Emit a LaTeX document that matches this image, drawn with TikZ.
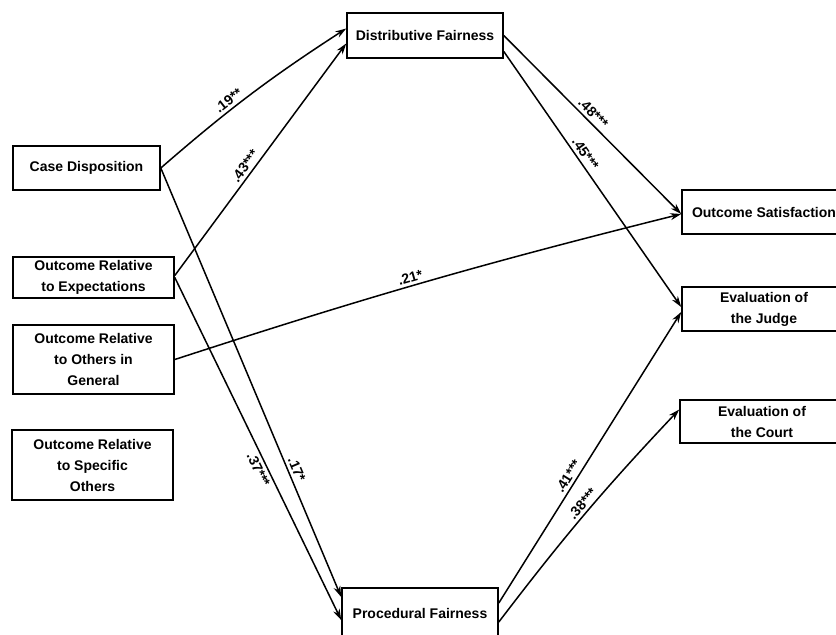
\documentclass[tikz,border=0pt]{standalone}
\usepackage{fontspec}
\setmainfont{Liberation Sans}
\usetikzlibrary{arrows.meta}
\begin{document}
\begin{tikzpicture}[x=1pt,y=-1pt,
  box/.style={draw,line width=1.6pt,rectangle,inner sep=0pt,align=center,
    font=\bfseries\fontsize{14}{21}\selectfont},
  arr/.style={line width=1.5pt,-{Stealth[length=11pt,width=7pt]}},
  lab/.style={sloped,font=\bfseries\fontsize{14}{16}\selectfont,inner sep=3pt}]
\useasboundingbox (0,0) rectangle (836,635);
\clip (0,0) rectangle (836,635);
% left column
\node[box,minimum width=147pt,minimum height=44pt] (cd) at (86.5,168) {Case Disposition};
\node[box,minimum width=161pt,minimum height=41pt] (ore) at (93.5,277.5) {Outcome Relative\\to Expectations};
\node[box,minimum width=161pt,minimum height=69pt] (oog) at (93.5,359.5) {Outcome Relative\\to Others in\\General};
\node[box,minimum width=161pt,minimum height=70pt] (osp) at (92.5,465) {Outcome Relative\\to Specific\\Others};
% middle column
\node[box,minimum width=156pt,minimum height=45pt] (df) at (425,35.5) {Distributive Fairness};
\node[box,minimum width=156pt,minimum height=50pt] (pf) at (420,613) {Procedural Fairness};
% right column
\node[box,minimum width=164pt,minimum height=44pt] (os) at (764,212) {Outcome Satisfaction};
\node[box,minimum width=164pt,minimum height=44pt] (ej) at (764,309) {Evaluation of\\the Judge};
\node[box,minimum width=164pt,minimum height=43pt] (ec) at (762,421.5) {Evaluation of\\the Court};
% connectors
\draw[arr] (cd.east) to[bend left=4] node[lab,above,pos=0.4]{.19**} ([yshift=7pt]df.west);
\draw[arr] ([yshift=2pt]ore.east) -- node[lab,above,pos=0.45]{.43***} ([yshift=-8pt]df.west);
\draw[arr] (cd.east) -- node[lab,above,pos=0.71]{.17*} ([yshift=16pt]pf.west);
\draw[arr] (ore.east) -- node[lab,below,pos=0.55]{.37***} ([yshift=-7pt]pf.west);
\draw[arr] (oog.east) to[bend left=2] node[lab,above,pos=0.47]{.21*} ([yshift=-2pt]os.west);
\draw[arr] (df.east) -- node[lab,above,pos=0.47]{.48***} ([yshift=-2pt]os.west);
\draw[arr] ([yshift=-16pt]df.east) -- node[lab,above,pos=0.42]{.45***} ([yshift=2pt]ej.west);
\draw[arr] ([yshift=10pt]pf.east) -- node[lab,above,pos=0.42]{.41***} ([yshift=-3pt]ej.west);
\draw[arr] ([yshift=-9pt]pf.east) to[bend left=3] node[lab,above,pos=0.52]{.38***} ([yshift=12pt]ec.west);
\end{tikzpicture}
\end{document}
